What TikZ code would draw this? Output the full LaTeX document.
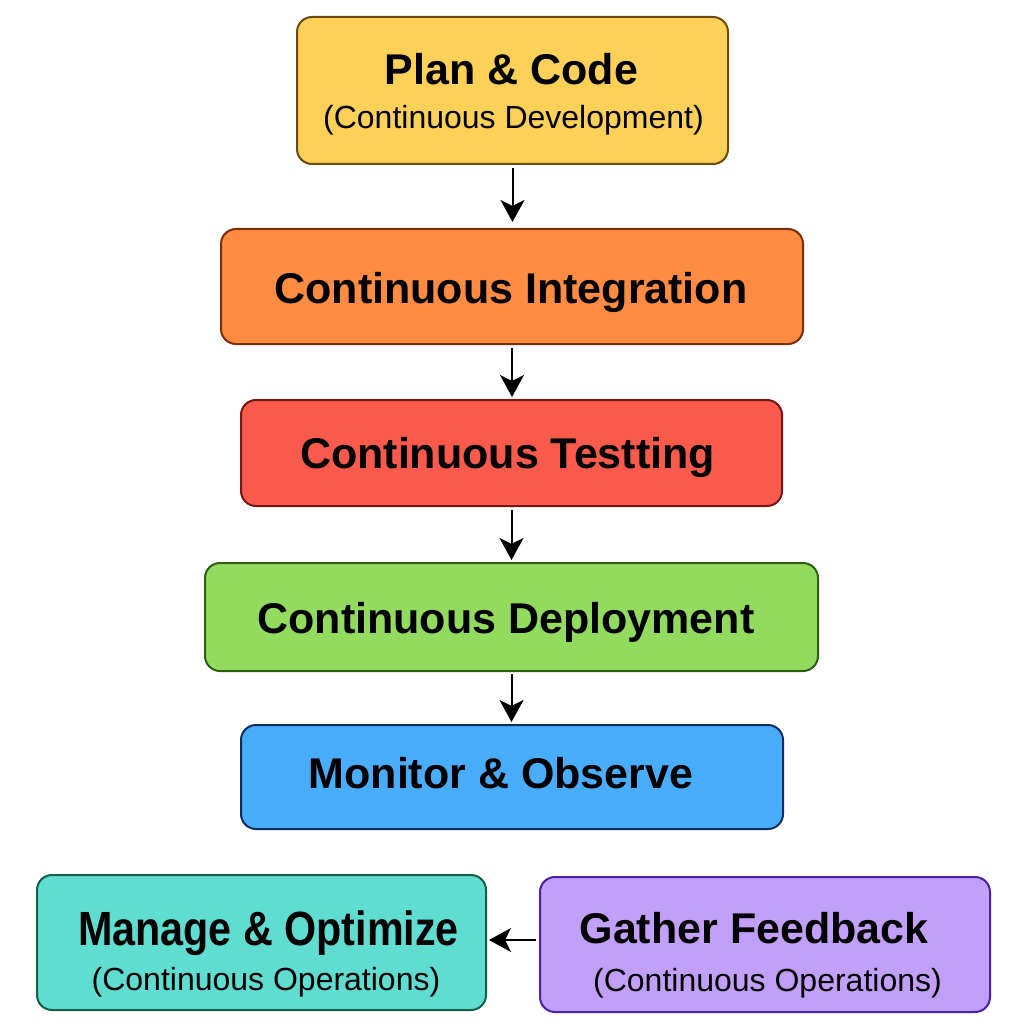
\documentclass[tikz,border=0pt]{standalone}
\usepackage{fontspec}
\setmainfont{Liberation Sans}
\usetikzlibrary{arrows.meta}
\definecolor{yfill}{HTML}{FDD058}\definecolor{ydraw}{HTML}{6B4A10}
\definecolor{ofill}{HTML}{FD8B41}\definecolor{odraw}{HTML}{7A2E0A}
\definecolor{rfill}{HTML}{FA5A4B}\definecolor{rdraw}{HTML}{7A1515}
\definecolor{gfill}{HTML}{93DB5E}\definecolor{gdraw}{HTML}{2E5E12}
\definecolor{bfill}{HTML}{48ADFD}\definecolor{bdraw}{HTML}{0F2D5E}
\definecolor{tfill}{HTML}{5FDDD1}\definecolor{tdraw}{HTML}{136048}
\definecolor{pfill}{HTML}{C2A0F9}\definecolor{pdraw}{HTML}{4A1FAA}
\tikzset{
  stagebox/.style={rectangle, rounded corners=15pt, line width=2pt, inner sep=0pt},
  title/.style={anchor=base, inner sep=0pt, font=\fontsize{43}{50}\selectfont\bfseries},
  subtitle/.style={anchor=base, inner sep=0pt, font=\fontsize{32}{38}\selectfont},
  flow/.style={-{Stealth[length=22pt,width=24pt,inset=6pt]}, line width=2pt, black}
}
\begin{document}
\begin{tikzpicture}[x=1pt,y=-1pt]
\useasboundingbox (0,0) rectangle (1024,1024);
\fill[white] (0,0) rectangle (1024,1024);
% boxes
\node[stagebox, fill=yfill, draw=ydraw, minimum width=431pt, minimum height=147pt] (b1) at (512.5,90.5) {};
\node[stagebox, fill=ofill, draw=odraw, minimum width=582pt, minimum height=115pt] (b2) at (512,286.5) {};
\node[stagebox, fill=rfill, draw=rdraw, minimum width=541pt, minimum height=106pt] (b3) at (511.5,453) {};
\node[stagebox, fill=gfill, draw=gdraw, minimum width=613pt, minimum height=108pt] (b4) at (511.5,617) {};
\node[stagebox, fill=bfill, draw=bdraw, minimum width=542pt, minimum height=104pt] (b5) at (512,777) {};
\node[stagebox, fill=tfill, draw=tdraw, minimum width=449pt, minimum height=135pt] (b6) at (261.5,942.5) {};
\node[stagebox, fill=pfill, draw=pdraw, minimum width=450pt, minimum height=135pt] (b7) at (765,944.5) {};
% texts
\node[title] (t1) at (511.5,85) {Plan \& Code};
\node[subtitle] (s1) at (513.5,129) {(Continuous Development)};
\node[title] (t2) at (511,303) {Continuous Integration};
\node[title] (t3) at (507.5,468) {Continuous Testting};
\node[title] (t4) at (506,633) {Continuous Deployment};
\node[title] (t5) at (501,788) {Monitor \& Observe};
\node[title] (t6) at (268.5,945) {\scalebox{0.86}[1]{\fontsize{48}{56}\selectfont\bfseries Manage \& Optimize}};
\node[subtitle] (s6) at (266,990) {(Continuous Operations)};
\node[title] (t7) at (754,943) {Gather Feedback};
\node[subtitle] (s7) at (767.5,991) {(Continuous Operations)};
% connectors
\draw[flow, shorten <=3pt, shorten >=6pt] (b1.south) -- (b1.south |- b2.north);
\draw[flow, shorten <=3pt, shorten >=2pt] (b2.south) -- (b2.south |- b3.north);
\draw[flow, shorten <=3pt, shorten >=2pt] (b3.south) -- (b3.south |- b4.north);
\draw[flow, shorten <=2pt, shorten >=2pt] (b4.south) -- (b4.south |- b5.north);
\draw[flow, shorten <=3pt, shorten >=2pt] (b7.west |- 0,940) -- (b6.east |- 0,940);
\end{tikzpicture}
\end{document}
